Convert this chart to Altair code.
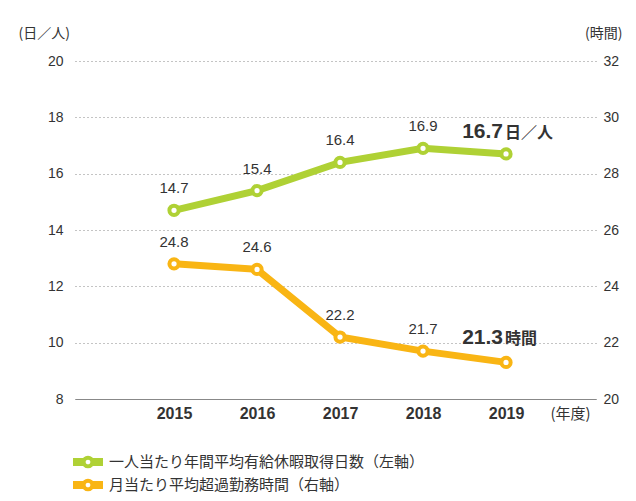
import altair as alt
import pandas as pd

years = [2015, 2016, 2017, 2018, 2019]
leave_days = [14.7, 15.4, 16.4, 16.9, 16.7]
overtime_hours = [24.8, 24.6, 22.2, 21.7, 21.3]
series_names = ["一人当たり年間平均有給休暇取得日数（左軸）", "月当たり平均超過勤務時間（右軸）"]
colors = ["#afd135", "#f9b514"]
left_ticks = [8, 10, 12, 14, 16, 18, 20]
right_ticks = [20, 22, 24, 26, 28, 30, 32]
units = ["日／人", "時間"]

FONT = "Liberation Sans, Arial, Noto Sans CJK JP, sans-serif"
CJK = "Noto Sans CJK JP, sans-serif"
TXT = "#333333"

df_days = pd.DataFrame({
    "year": years, "value": leave_days, "series": series_names[0],
    "label": [f"{v:.1f}" for v in leave_days], "unit": units[0]})
df_hours = pd.DataFrame({
    "year": years, "value": overtime_hours, "series": series_names[1],
    "label": [f"{v:.1f}" for v in overtime_hours], "unit": units[1]})

x_enc = alt.X("year:Q",
              scale=alt.Scale(domain=[2013.807, 2020.084], nice=False, zero=False),
              axis=alt.Axis(values=years, format="d", title="(年度)", ticks=False,
                            grid=False, domain=True, domainColor="#888888", domainWidth=1.2,
                            labelFont=FONT, labelFontSize=16, labelFontWeight="bold",
                            labelColor=TXT, labelPadding=6,
                            titleFont=CJK, titleFontSize=15, titleFontWeight="normal",
                            titleColor=TXT, titleX=495, titleY=14, titleAlign="center",
                            titleBaseline="middle", titleAngle=0))

legend_symbol = ("M-1.625,-0.25 L-0.656,-0.25 L-0.656,0.25 L-1.625,0.25 Z "
                 "M0.544,0 A0.544,0.544 0 1,1 -0.544,0 A0.544,0.544 0 1,1 0.544,0 Z "
                 "M0.656,-0.25 L1.625,-0.25 L1.625,0.25 L0.656,0.25 Z")

color_enc = alt.Color("series:N",
                      scale=alt.Scale(domain=series_names, range=colors),
                      legend=alt.Legend(title=None, orient="none", legendX=3, legendY=391,
                                        symbolType=legend_symbol,
                                        symbolSize=256, symbolStrokeWidth=4,
                                        symbolFillColor="white",
                                        labelFont=CJK, labelFontSize=15, labelColor=TXT,
                                        labelLimit=0, labelOffset=11, rowPadding=-7))


def y_enc(domain, ticks, title, orient, grid, title_x, title_align, pad):
    return alt.Y("value:Q",
                 scale=alt.Scale(domain=domain, nice=False, zero=False),
                 axis=alt.Axis(values=ticks, orient=orient, title=title, grid=grid,
                               gridDash=[1, 3], gridColor="#888888", gridWidth=1,
                               domain=False, ticks=False, labelPadding=pad,
                               labelFont=FONT, labelFontSize=14, labelColor=TXT,
                               titleFont=CJK, titleFontSize=14, titleFontWeight="normal",
                               titleColor=TXT, titleAngle=0, titleX=title_x, titleY=-28,
                               titleAlign=title_align, titleBaseline="middle"))


def build(df, color, yy, big_dy):
    base = alt.Chart(df)
    line = base.mark_line(strokeWidth=7).encode(x=x_enc, y=yy, color=color_enc)
    pts = base.mark_point(shape="circle", filled=True, fill="white", stroke=color,
                          strokeWidth=4, size=85, opacity=1).encode(x=x_enc, y=yy)
    small = base.transform_filter("datum.year < 2019").mark_text(
        dy=-22, fontSize=15, color=TXT, font=FONT, baseline="middle").encode(
        x=x_enc, y=yy, text="label:N")
    big = base.transform_filter("datum.year == 2019").mark_text(
        dy=big_dy, dx=-3, align="right", baseline="alphabetic", fontSize=21,
        fontWeight="bold", color=TXT, font=FONT).encode(x=x_enc, y=yy, text="label:N")
    unit = base.transform_filter("datum.year == 2019").mark_text(
        dy=big_dy, dx=-1, align="left", baseline="alphabetic", fontSize=16,
        fontWeight="bold", color=TXT, font=CJK).encode(x=x_enc, y=yy, text="unit:N")
    return alt.layer(line, pts, small, big, unit)


left_y = y_enc([8, 20], left_ticks, "(日／人)", "left", True, -57, "left", 12)
right_y = y_enc([20, 32], right_ticks, "(時間)", "right", False, 26, "right", 7)

left = build(df_days, colors[0], left_y, -16)
right = build(df_hours, colors[1], right_y, -18)

chart = alt.layer(left, right).resolve_scale(y="independent").properties(
    width=521, height=338,
    autosize=alt.AutoSizeParams(type="none"),
    padding={"left": 67, "top": 53, "right": 32, "bottom": 100},
    background="white",
).configure_view(stroke=None)

chart.save("out.html", embed_options={"renderer": "svg", "actions": False})
